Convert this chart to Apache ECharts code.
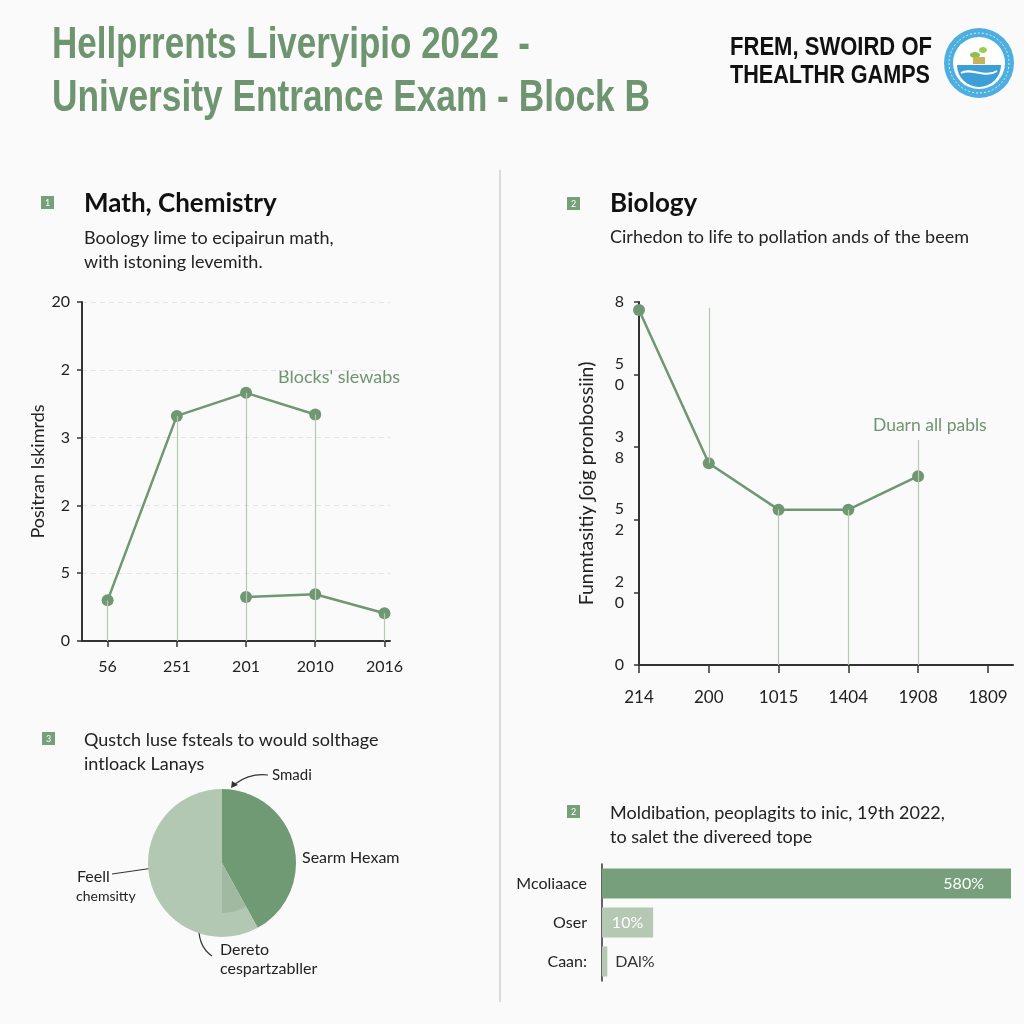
<!DOCTYPE html>
<html>
<head>
<meta charset="utf-8">
<script src="https://cdn.jsdelivr.net/npm/echarts@6/dist/echarts.min.js"></script>
<style>
html,body{margin:0;padding:0;background:#fafafa;}
#c{width:1024px;height:1024px;}
</style>
</head>
<body>
<div id="c"></div>
<script>
// ---------- data ----------
const titleLines = ['Hellprrents Liveryipio 2022  -', 'University Entrance Exam - Block B'];
const logoLines = ['FREM, SWOIRD OF', 'THEALTHR GAMPS'];

const panel1Title = 'Math, Chemistry';
const panel1Sub = ['Boology lime to ecipairun math,', 'with istoning levemith.'];
const mathXLabels = ['56', '251', '201', '2010', '2016'];
const mathYLabels = ['0', '5', '2', '3', '2', '20'];
const mathSeriesA = [0.60, 3.32, 3.66, 3.34, null];
const mathSeriesB = [null, null, 0.65, 0.69, 0.41];
const mathYName = 'Positran Iskimrds';
const mathNote = "Blocks' slewabs";

const panel2Title = 'Biology';
const panel2Sub = ['Cirhedon to life to pollation ands of the beem'];
const bioXLabels = ['214', '200', '1015', '1404', '1908', '1809'];
const bioYLabels = ['0', '2\n0', '5\n2', '3\n8', '5\n0', '8'];
const bioSeries = [4.89, 2.78, 2.14, 2.14, 2.60];
// guide lines: [x index, from value, to value]
const bioGuides = [[1, 4.92, 2.78], [2, 2.14, 0], [3, 2.14, 0], [4, 3.10, 0]];
const bioYName = 'Funmtasitiy \u0283oig pronbossiin)';
const bioNote = 'Duarn all pabls';

const panel3Sub = ['Qustch luse fsteals to would solthage', 'intloack Lanays'];
const pieNames = ['Searm Hexam', 'Dereto', 'Feell'];
const pieValues = [42, 8, 50];
const pieNotes = ['Smadi', 'Searm Hexam', 'Feell', 'chemsitty', 'Dereto', 'cespartzabller'];

const panel4Sub = ['Moldibation, peoplagits to inic, 19th 2022,', 'to salet the divereed tope'];
const barCats = ['Mcoliaace', 'Oser', 'Caan:'];
const barValues = [100, 12.5, 1.3];
const barLabels = ['580%', '10%', 'DAl%'];

// ---------- styles ----------
const GREEN = '#6f9771';
const GUIDE = '#b7c9b6';
const AX = '#333333';

function pairs(arr) {
  const out = [];
  arr.forEach((v, i) => { if (v !== null) out.push([i, v]); });
  return out;
}

const chart = echarts.init(document.getElementById('c'), null, {renderer: 'canvas'});

const mathA = pairs(mathSeriesA);
const mathB = pairs(mathSeriesB);
const mathGuideData = [];
mathSeriesA.forEach((v, i) => { if (v !== null) mathGuideData.push([{coord: [i, v]}, {coord: [i, 0]}]); });
mathSeriesB.forEach((v, i) => { if (v !== null && mathSeriesA[i] === null) mathGuideData.push([{coord: [i, v]}, {coord: [i, 0]}]); });
const bioGuideData = bioGuides.map(g => [{coord: [g[0], g[1]]}, {coord: [g[0], g[2]]}]);

const measureCtx = document.createElement('canvas').getContext('2d');
function txt(x, y, text, font, fill, align) {
  return {type: 'text', x: x, y: y, silent: true,
    style: {text: text, font: font, fill: fill || '#222', textAlign: align || 'left', textVerticalAlign: 'middle'}};
}
// text squeezed horizontally to a given width
function fitTxt(x, y, text, font, fill, width) {
  measureCtx.font = font;
  const w = measureCtx.measureText(text).width;
  const el = txt(x, y, text, font, fill);
  el.scaleX = width / w;
  return el;
}
function icon(x, y, n) {
  return {type: 'group', x: x, y: y, silent: true, children: [
    {type: 'rect', shape: {x: 0, y: 0, width: 13, height: 13}, style: {fill: '#76a07a'}},
    {type: 'text', x: 6.5, y: 7, style: {text: n, font: '9px Lato', fill: '#fff', textAlign: 'center', textVerticalAlign: 'middle'}}
  ]};
}

const TITLE_FONT = 'bold 45px "Liberation Sans", Arial, sans-serif';
const LOGO_FONT = 'bold 26px "Liberation Sans", Arial, sans-serif';
const SUB_FONT = '18px Lato';

const graphics = [
  fitTxt(52, 46, titleLines[0], TITLE_FONT, '#6e9470', 478),
  fitTxt(52, 99, titleLines[1], TITLE_FONT, '#6e9470', 598),
  fitTxt(730, 48, logoLines[0], LOGO_FONT, '#111', 202),
  fitTxt(730, 76, logoLines[1], LOGO_FONT, '#111', 200),
  // logo
  {type: 'group', x: 979, y: 63, silent: true, children: [
    {type: 'circle', shape: {cx: 0, cy: 0, r: 35}, style: {fill: '#4dafe0'}},
    {type: 'circle', shape: {cx: 0, cy: 0, r: 30}, style: {fill: 'none', stroke: '#d8eef9', lineWidth: 1, lineDash: [2, 2]}},
    {type: 'circle', shape: {cx: 0, cy: 0, r: 26}, style: {fill: '#ffffff'}},
    {type: 'sector', shape: {cx: 0, cy: 2, r: 22, startAngle: 0, endAngle: Math.PI}, style: {fill: '#3d9fd6'}},
    {type: 'bezierCurve', shape: {x1: -18, y1: 10, cpx1: -8, cpy1: 4, cpx2: 6, cpy2: 16, x2: 18, y2: 8}, style: {stroke: '#ffffff', lineWidth: 2, fill: 'none'}},
    {type: 'ellipse', shape: {cx: -4, cy: -8, rx: 5, ry: 3}, style: {fill: '#8cc04a'}},
    {type: 'ellipse', shape: {cx: 4, cy: -13, rx: 4, ry: 3}, style: {fill: '#9ccc50'}},
    {type: 'rect', shape: {x: -6, y: -6, width: 12, height: 7}, style: {fill: '#c9b35a'}}
  ]},
  // divider
  {type: 'line', silent: true, shape: {x1: 500, y1: 170, x2: 500, y2: 1002}, style: {stroke: '#cfcfcf', lineWidth: 1.5}},
  // panel 1
  icon(41, 196, '1'),
  txt(84, 204, panel1Title, 'bold 26px Lato', '#111'),
  txt(84, 238, panel1Sub[0], SUB_FONT, '#222'),
  txt(84, 262, panel1Sub[1], SUB_FONT, '#222'),
  txt(278, 377, mathNote, '18px Lato', '#6e9470'),
  // panel 2
  icon(567, 197, '2'),
  txt(610, 204, panel2Title, 'bold 26px Lato', '#111'),
  txt(610, 237, panel2Sub[0], SUB_FONT, '#222'),
  txt(873, 425, bioNote, '17.5px Lato', '#6e9470'),
  // panel 3
  icon(42, 732, '3'),
  txt(84, 740, panel3Sub[0], SUB_FONT, '#222'),
  txt(84, 764, panel3Sub[1], SUB_FONT, '#222'),
  txt(272, 775, pieNotes[0], '15px Lato', '#222'),
  txt(302, 858, pieNotes[1], '16px Lato', '#222'),
  txt(77, 877, pieNotes[2], '16px Lato', '#222'),
  txt(76, 896, pieNotes[3], '14px Lato', '#222'),
  txt(220, 950, pieNotes[4], '16px Lato', '#222'),
  txt(220, 969, pieNotes[5], '16px Lato', '#222'),
  // arrows
  {type: 'bezierCurve', silent: true, shape: {x1: 268, y1: 775, cpx1: 250, cpy1: 773, x2: 235, y2: 784}, style: {stroke: '#333', lineWidth: 1.2, fill: 'none'}},
  {type: 'polygon', silent: true, shape: {points: [[231, 788], [232, 781], [238, 785]]}, style: {fill: '#333'}},
  {type: 'line', silent: true, shape: {x1: 112, y1: 874, x2: 181, y2: 864}, style: {stroke: '#333', lineWidth: 1.2}},
  {type: 'polygon', silent: true, shape: {points: [[186, 864], [179, 861], [180, 867]]}, style: {fill: '#333'}},
  {type: 'bezierCurve', silent: true, shape: {x1: 212, y1: 956, cpx1: 197, cpy1: 946, x2: 199, y2: 922}, style: {stroke: '#333', lineWidth: 1.2, fill: 'none'}},
  {type: 'polygon', silent: true, shape: {points: [[199, 916], [196, 923], [202, 923]]}, style: {fill: '#333'}},
  // panel 4
  icon(567, 805, '2'),
  txt(610, 813, panel4Sub[0], SUB_FONT, '#222'),
  txt(610, 837, panel4Sub[1], SUB_FONT, '#222')
];

const option = {
  backgroundColor: '#fafafa',
  animation: false,
  textStyle: {fontFamily: 'Lato'},
  grid: [
    {left: 82, top: 302, width: 308, height: 339},
    {left: 639, top: 302, width: 374, height: 363},
    {left: 602, top: 864, width: 409, height: 117}
  ],
  xAxis: [
    {gridIndex: 0, type: 'value', min: -0.37, max: 4.08,
      axisLine: {show: true, onZero: false, lineStyle: {color: AX, width: 2}},
      axisTick: {show: true, customValues: [0, 1, 2, 3, 4], length: 6, lineStyle: {color: AX, width: 1.5}},
      axisLabel: {customValues: [0, 1, 2, 3, 4], formatter: v => mathXLabels[Math.round(v)], fontSize: 16, color: '#222', margin: 18, fontFamily: 'Lato'},
      splitLine: {show: false}},
    {gridIndex: 1, type: 'value', min: 0, max: 5.36,
      axisLine: {show: true, onZero: false, lineStyle: {color: AX, width: 2}},
      axisTick: {show: true, customValues: [0, 1, 2, 3, 4, 5], length: 8, lineStyle: {color: AX, width: 1.5}},
      axisLabel: {customValues: [0, 1, 2, 3, 4, 5], formatter: v => bioXLabels[Math.round(v)], fontSize: 17, color: '#222', margin: 24, fontFamily: 'Lato'},
      splitLine: {show: false}},
    {gridIndex: 2, type: 'value', min: 0, max: 100, show: false}
  ],
  yAxis: [
    {gridIndex: 0, type: 'value', min: 0, max: 5, interval: 1,
      name: mathYName, nameLocation: 'middle', nameGap: 33, nameRotate: 90,
      nameTextStyle: {fontSize: 18, color: '#222', fontFamily: 'Lato'},
      axisLine: {show: true, onZero: false, lineStyle: {color: AX, width: 2}},
      axisTick: {show: true, length: 5, lineStyle: {color: AX, width: 1.5}},
      axisLabel: {formatter: v => mathYLabels[Math.round(v)], fontSize: 16, color: '#222', margin: 12, fontFamily: 'Lato'},
      splitLine: {show: true, lineStyle: {color: '#e4e4e4', type: [5, 4], width: 1}}},
    {gridIndex: 1, type: 'value', min: 0, max: 5, interval: 1,
      name: bioYName, nameLocation: 'middle', nameGap: 42, nameRotate: 90,
      nameTextStyle: {fontSize: 19.5, color: '#222', fontFamily: 'Lato'},
      axisLine: {show: true, onZero: false, lineStyle: {color: AX, width: 2}},
      axisTick: {show: true, length: 5, lineStyle: {color: AX, width: 1.5}},
      axisLabel: {formatter: v => bioYLabels[Math.round(v)], fontSize: 16, color: '#222', margin: 15, lineHeight: 21, fontFamily: 'Lato'},
      splitLine: {show: false}},
    {gridIndex: 2, type: 'category', data: barCats, inverse: true,
      axisLine: {show: true, lineStyle: {color: AX, width: 1.5}},
      axisTick: {show: false},
      axisLabel: {fontSize: 16, color: '#222', margin: 15, fontFamily: 'Lato'}}
  ],
  series: [
    // chart 1 guides
    {type: 'line', xAxisIndex: 0, yAxisIndex: 0, data: mathA, symbol: 'none', lineStyle: {opacity: 0}, silent: true, z: 1,
      markLine: {silent: true, symbol: 'none', animation: false, label: {show: false},
        lineStyle: {color: GUIDE, width: 1.2, type: 'solid'}, data: mathGuideData}},
    {type: 'line', xAxisIndex: 0, yAxisIndex: 0, data: mathA, symbol: 'circle', symbolSize: 12, z: 3,
      lineStyle: {color: GREEN, width: 2.5}, itemStyle: {color: GREEN}, silent: true},
    {type: 'line', xAxisIndex: 0, yAxisIndex: 0, data: mathB, symbol: 'circle', symbolSize: 12, z: 3,
      lineStyle: {color: GREEN, width: 2.5}, itemStyle: {color: GREEN}, silent: true},
    // chart 2
    {type: 'line', xAxisIndex: 1, yAxisIndex: 1, data: pairs(bioSeries), symbol: 'none', lineStyle: {opacity: 0}, silent: true, z: 1,
      markLine: {silent: true, symbol: 'none', animation: false, label: {show: false},
        lineStyle: {color: GUIDE, width: 1.2, type: 'solid'}, data: bioGuideData}},
    {type: 'line', xAxisIndex: 1, yAxisIndex: 1, data: pairs(bioSeries), symbol: 'circle', symbolSize: 12, z: 3,
      lineStyle: {color: GREEN, width: 2.5}, itemStyle: {color: GREEN}, silent: true},
    // pie
    {type: 'pie', center: [222, 863], radius: 74, startAngle: 90, clockwise: true, silent: true,
      label: {show: false}, labelLine: {show: false},
      data: pieValues.map((v, i) => ({value: v, name: pieNames[i], itemStyle: {color: ['#6f9a73', '#b3c8b2', '#b3c8b2'][i]}}))},
    {type: 'pie', center: [222, 863], radius: 50, startAngle: 90, clockwise: true, silent: true,
      label: {show: false}, labelLine: {show: false},
      data: pieValues.map((v, i) => ({value: v, name: pieNames[i], itemStyle: {color: ['rgba(0,0,0,0)', '#a1b9a0', 'rgba(0,0,0,0)'][i]}}))},
    // bars
    {type: 'bar', xAxisIndex: 2, yAxisIndex: 2, barWidth: 30, silent: true,
      data: barValues.map((v, i) => ({
        value: v,
        itemStyle: {color: ['#789f7b', '#b5c8b4', '#b5c8b4'][i]},
        label: [
          {show: true, position: 'insideRight', offset: [-22, 0], color: '#fff', fontSize: 16, formatter: barLabels[i]},
          {show: true, position: 'inside', color: '#fff', fontSize: 16, formatter: barLabels[i]},
          {show: true, position: 'right', distance: 8, color: '#333', fontSize: 16, formatter: barLabels[i]}
        ][i]
      }))}
  ],
  graphic: graphics
};
chart.setOption(option);
</script>
</body>
</html>
